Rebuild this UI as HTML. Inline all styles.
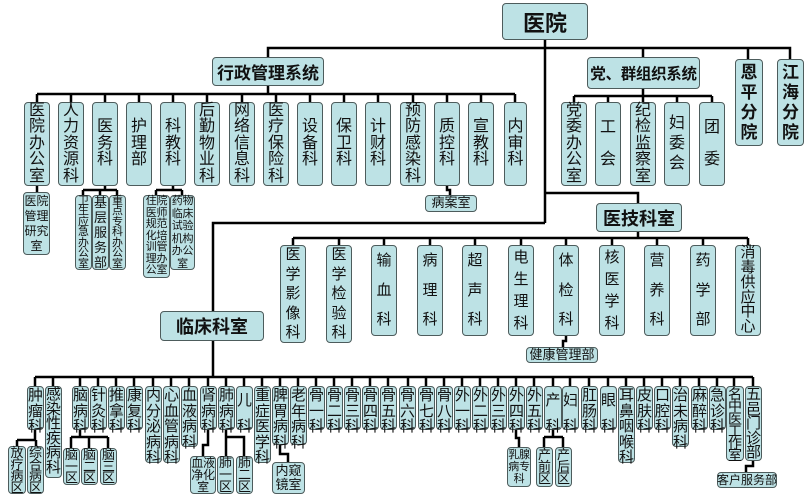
<!DOCTYPE html>
<html><head><meta charset="utf-8">
<style>
html,body{margin:0;padding:0;background:#fff;}
#c{position:relative;width:810px;height:501px;overflow:hidden;font-family:"Liberation Sans","Noto Sans CJK SC",sans-serif;color:#111;}
.b{position:absolute;background:#bde2e5;border:1px solid #4d5c5c;border-radius:4px;box-sizing:border-box;text-align:center;display:flex;flex-direction:column;align-items:center;justify-content:center;overflow:visible;white-space:nowrap;}
.h{font-weight:bold;font-size:17px;}
.a{font-size:16px;line-height:16.5px;}
.t{font-size:15px;line-height:15.5px;justify-content:flex-start;padding-top:1px;}
.s{font-size:12px;line-height:12.5px;}
.w{font-size:11px;letter-spacing:-0.3px;}
.m{font-size:15px;}
svg{position:absolute;left:0;top:0;}
</style></head><body><div id="c">
<svg width="810" height="501" fill="none" stroke="#000" stroke-width="2.5">
<path d="M545 40V223M545 193H638V203M545 223H213V311"/>
<path d="M268 57V48H790V59M643 48V57M748 48V59"/>
<path d="M268 86V94M37 94H515M37 94V102M71 94V102M105 94V102M139 94V102M173 94V102M207 94V102M242 94V102M276 94V102M310 94V102M344 94V102M378 94V102M413 94V102M447 94V102M481 94V102M515 94V102"/>
<path d="M37 186V192M105 186V190M83 190H117M83 190V195M100 190V195M117 190V195M173 186V190M156 190H182M156 190V195M182 190V195M447 186V190H450V195"/>
<path d="M643 89V96M574 96H712M574 96V102M608 96V102M643 96V102M677 96V102M712 96V102"/>
<path d="M638 232V238M293 238H748M293 238V245M339 238V245M384 238V245M430 238V245M475 238V245M521 238V245M566 238V245M612 238V245M657 238V245M703 238V245M748 238V245M566 336V341H563V347"/>
<path d="M213 341V377M35 377H753"/>
<path d="M35 377V386M53 377V386M80 377V386M98 377V386M116 377V386M134 377V386M153 377V386M171 377V386M189 377V386M208 377V386M226 377V386M244 377V386M262 377V386M280 377V386M298 377V386M316 377V386M334 377V386M352 377V386M370 377V386M388 377V386M408 377V386M426 377V386M444 377V386M462 377V386M480 377V386M498 377V386M516 377V386M534 377V386M553 377V386M570 377V386M589 377V386M608 377V386M626 377V386M644 377V386M662 377V386M680 377V386M699 377V386M717 377V386M734 377V386M753 377V386"/>
<path d="M35 430V440M17 440H36M17 440V446M36 440V446M80 430V437M71 437H108M71 437V448M89 437V448M108 437V448M208 430V445H203V456M226 430V456M226 437H244V456M280 445V454H288V462M516 430V438H519V447M553 430V437M544 437H563M544 437V447M563 437V447M753 461V466H746V472"/>
</svg>

<div class="b" style="left:502px;top:3px;width:86px;height:37px;font-weight:bold;font-size:22px;">医院</div>
<div class="b h" style="left:212px;top:57px;width:112px;height:29px;">行政管理系统</div>
<div class="b h" style="left:587px;top:57px;width:113px;height:32px;font-size:15.5px;letter-spacing:-0.3px;">党、群组织系统</div>
<div class="b h" style="left:735px;top:59px;width:28px;height:87px;line-height:20px;">恩<br>平<br>分<br>院</div>
<div class="b h" style="left:777px;top:59px;width:27px;height:87px;line-height:20px;">江<br>海<br>分<br>院</div>
<div class="b h" style="left:596px;top:203px;width:86px;height:29px;font-size:18px;">医技科室</div>
<div class="b h" style="left:160px;top:311px;width:104px;height:30px;font-size:18px;">临床科室</div>

<!-- admin -->
<div class="b a" style="left:24px;top:102px;width:26px;height:84px;">医<br>院<br>办<br>公<br>室</div>
<div class="b a" style="left:58px;top:102px;width:26px;height:84px;">人<br>力<br>资<br>源<br>科</div>
<div class="b a" style="left:92px;top:102px;width:26px;height:84px;">医<br>务<br>科</div>
<div class="b a" style="left:126px;top:102px;width:26px;height:84px;">护<br>理<br>部</div>
<div class="b a" style="left:160px;top:102px;width:26px;height:84px;">科<br>教<br>科</div>
<div class="b a" style="left:194px;top:102px;width:26px;height:84px;">后<br>勤<br>物<br>业<br>科</div>
<div class="b a" style="left:229px;top:102px;width:26px;height:84px;">网<br>络<br>信<br>息<br>科</div>
<div class="b a" style="left:263px;top:102px;width:26px;height:84px;">医<br>疗<br>保<br>险<br>科</div>
<div class="b a" style="left:297px;top:102px;width:26px;height:84px;">设<br>备<br>科</div>
<div class="b a" style="left:331px;top:102px;width:26px;height:84px;">保<br>卫<br>科</div>
<div class="b a" style="left:365px;top:102px;width:26px;height:84px;">计<br>财<br>科</div>
<div class="b a" style="left:400px;top:102px;width:26px;height:84px;">预<br>防<br>感<br>染<br>科</div>
<div class="b a" style="left:434px;top:102px;width:26px;height:84px;">质<br>控<br>科</div>
<div class="b a" style="left:468px;top:102px;width:26px;height:84px;">宣<br>教<br>科</div>
<div class="b a" style="left:504px;top:102px;width:23px;height:84px;">内<br>审<br>科</div>

<div class="b" style="left:23px;top:192px;width:27px;height:63px;font-size:12px;line-height:15px;">医院<br>管理<br>研究<br>室</div>
<div class="b s" style="left:75px;top:195px;width:17px;height:75px;font-size:11px;line-height:10.5px;">卫<br>生<br>应<br>急<br>办<br>公<br>室</div>
<div class="b s" style="left:92px;top:195px;width:17px;height:75px;font-size:13px;line-height:15px;">基<br>层<br>服<br>务<br>部</div>
<div class="b s" style="left:109px;top:195px;width:17px;height:75px;font-size:11px;line-height:10.5px;">重<br>点<br>专<br>科<br>办<br>公<br>室</div>
<div class="b w" style="left:143px;top:195px;width:27px;height:83px;line-height:11.5px;">住院<br>医师<br>规范<br>化培<br>训管<br>理办<br>公室</div>
<div class="b w" style="left:170px;top:195px;width:25px;height:75px;line-height:12.5px;">药物<br>临床<br>试验<br>机构<br>办公<br>室</div>
<div class="b s" style="left:425px;top:195px;width:52px;height:17px;font-size:13px;">病案室</div>

<!-- party -->
<div class="b a" style="left:561px;top:102px;width:26px;height:84px;">党<br>委<br>办<br>公<br>室</div>
<div class="b a" style="left:595px;top:102px;width:26px;height:84px;line-height:32px;">工<br>会</div>
<div class="b a" style="left:630px;top:102px;width:26px;height:84px;">纪<br>检<br>监<br>察<br>室</div>
<div class="b a" style="left:664px;top:102px;width:26px;height:84px;line-height:20px;">妇<br>委<br>会</div>
<div class="b a" style="left:699px;top:102px;width:26px;height:84px;line-height:32px;">团<br>委</div>

<!-- medtech -->
<div class="b m" style="left:280px;top:245px;width:26px;height:98px;line-height:19.5px;">医<br>学<br>影<br>像<br>科</div>
<div class="b m" style="left:326px;top:245px;width:26px;height:98px;line-height:19.5px;">医<br>学<br>检<br>验<br>科</div>
<div class="b m" style="left:371px;top:245px;width:26px;height:91px;line-height:29.5px;">输<br>血<br>科</div>
<div class="b m" style="left:417px;top:245px;width:26px;height:91px;line-height:29.5px;">病<br>理<br>科</div>
<div class="b m" style="left:462px;top:245px;width:26px;height:91px;line-height:29.5px;">超<br>声<br>科</div>
<div class="b m" style="left:508px;top:245px;width:26px;height:91px;line-height:22px;">电<br>生<br>理<br>科</div>
<div class="b m" style="left:553px;top:245px;width:26px;height:91px;line-height:29.5px;">体<br>检<br>科</div>
<div class="b m" style="left:599px;top:245px;width:26px;height:91px;line-height:22px;">核<br>医<br>学<br>科</div>
<div class="b m" style="left:644px;top:245px;width:26px;height:91px;line-height:29.5px;">营<br>养<br>科</div>
<div class="b m" style="left:690px;top:245px;width:26px;height:91px;line-height:29.5px;">药<br>学<br>部</div>
<div class="b m" style="left:735px;top:245px;width:26px;height:91px;line-height:14.8px;">消<br>毒<br>供<br>应<br>中<br>心</div>
<div class="b s" style="left:526px;top:347px;width:72px;height:16px;font-size:13px;">健康管理部</div>

<!-- clinical -->
<div class="b t" style="left:27px;top:386px;width:17px;height:44px;">肿<br>瘤<br>科</div>
<div class="b t" style="left:45px;top:386px;width:17px;height:92px;line-height:14.5px;">感<br>染<br>性<br>疾<br>病<br>科</div>
<div class="b t" style="left:72px;top:386px;width:17px;height:44px;">脑<br>病<br>科</div>
<div class="b t" style="left:90px;top:386px;width:17px;height:44px;">针<br>灸<br>科</div>
<div class="b t" style="left:108px;top:386px;width:17px;height:44px;">推<br>拿<br>科</div>
<div class="b t" style="left:126px;top:386px;width:17px;height:44px;">康<br>复<br>科</div>
<div class="b t" style="left:145px;top:386px;width:17px;height:77px;">内<br>分<br>泌<br>病<br>科</div>
<div class="b t" style="left:163px;top:386px;width:17px;height:77px;">心<br>血<br>管<br>病<br>科</div>
<div class="b t" style="left:181px;top:386px;width:17px;height:61px;">血<br>液<br>病<br>科</div>
<div class="b t" style="left:200px;top:386px;width:17px;height:44px;">肾<br>病<br>科</div>
<div class="b t" style="left:218px;top:386px;width:17px;height:44px;">肺<br>病<br>科</div>
<div class="b t" style="left:236px;top:386px;width:17px;height:44px;line-height:26px;">儿<br>科</div>
<div class="b t" style="left:254px;top:386px;width:17px;height:77px;">重<br>症<br>医<br>学<br>科</div>
<div class="b t" style="left:272px;top:386px;width:17px;height:59px;">脾<br>胃<br>病<br>科</div>
<div class="b t" style="left:290px;top:386px;width:17px;height:59px;">老<br>年<br>病<br>科</div>
<div class="b t" style="left:308px;top:386px;width:17px;height:44px;">骨<br>一<br>科</div>
<div class="b t" style="left:326px;top:386px;width:17px;height:44px;">骨<br>二<br>科</div>
<div class="b t" style="left:344px;top:386px;width:17px;height:44px;">骨<br>三<br>科</div>
<div class="b t" style="left:362px;top:386px;width:17px;height:44px;">骨<br>四<br>科</div>
<div class="b t" style="left:380px;top:386px;width:17px;height:44px;">骨<br>五<br>科</div>
<div class="b t" style="left:399px;top:386px;width:17px;height:44px;">骨<br>六<br>科</div>
<div class="b t" style="left:418px;top:386px;width:17px;height:44px;">骨<br>七<br>科</div>
<div class="b t" style="left:436px;top:386px;width:17px;height:44px;">骨<br>八<br>科</div>
<div class="b t" style="left:454px;top:386px;width:17px;height:44px;">外<br>一<br>科</div>
<div class="b t" style="left:472px;top:386px;width:17px;height:44px;">外<br>二<br>科</div>
<div class="b t" style="left:490px;top:386px;width:17px;height:44px;">外<br>三<br>科</div>
<div class="b t" style="left:508px;top:386px;width:17px;height:44px;">外<br>四<br>科</div>
<div class="b t" style="left:526px;top:386px;width:17px;height:44px;">外<br>五<br>科</div>
<div class="b t" style="left:544px;top:386px;width:18px;height:44px;line-height:26px;">产<br>科</div>
<div class="b t" style="left:562px;top:386px;width:17px;height:44px;line-height:26px;">妇<br>科</div>
<div class="b t" style="left:581px;top:386px;width:17px;height:44px;">肛<br>肠<br>科</div>
<div class="b t" style="left:600px;top:386px;width:17px;height:44px;line-height:26px;">眼<br>科</div>
<div class="b t" style="left:618px;top:386px;width:17px;height:77px;">耳<br>鼻<br>咽<br>喉<br>科</div>
<div class="b t" style="left:636px;top:386px;width:17px;height:44px;">皮<br>肤<br>科</div>
<div class="b t" style="left:654px;top:386px;width:17px;height:44px;">口<br>腔<br>科</div>
<div class="b t" style="left:672px;top:386px;width:17px;height:61px;">治<br>未<br>病<br>科</div>
<div class="b t" style="left:691px;top:386px;width:17px;height:44px;">麻<br>醉<br>科</div>
<div class="b t" style="left:709px;top:386px;width:17px;height:44px;">急<br>诊<br>科</div>
<div class="b t" style="left:726px;top:386px;width:18px;height:75px;font-size:14px;line-height:12.3px;">名<br>中<br>医<br>工<br>作<br>室</div>
<div class="b t" style="left:745px;top:386px;width:17px;height:75px;line-height:14.6px;">五<br>邑<br>门<br>诊<br>部</div>

<!-- clinical subs -->
<div class="b s" style="left:8px;top:446px;width:18px;height:48px;font-size:13px;line-height:11.5px;">放<br>疗<br>病<br>区</div>
<div class="b s" style="left:27px;top:446px;width:17px;height:48px;font-size:13px;line-height:11.5px;">综<br>合<br>病<br>区</div>
<div class="b s" style="left:63px;top:448px;width:17px;height:37px;font-size:13px;line-height:11.5px;">脑<br>一<br>区</div>
<div class="b s" style="left:81px;top:448px;width:17px;height:37px;font-size:13px;line-height:11.5px;">脑<br>二<br>区</div>
<div class="b s" style="left:100px;top:448px;width:17px;height:37px;font-size:13px;line-height:11.5px;">脑<br>三<br>区</div>
<div class="b w" style="left:190px;top:456px;width:26px;height:38px;font-size:12px;line-height:12px;">血液<br>净化<br>室</div>
<div class="b s" style="left:217px;top:456px;width:17px;height:38px;font-size:13px;line-height:12px;">肺<br>一<br>区</div>
<div class="b s" style="left:236px;top:456px;width:17px;height:38px;font-size:13px;line-height:12px;">肺<br>二<br>区</div>
<div class="b s" style="left:272px;top:462px;width:33px;height:32px;font-size:13px;line-height:14px;">内窥<br>镜室</div>
<div class="b w" style="left:507px;top:447px;width:24px;height:40px;line-height:12px;">乳腺<br>病专<br>科</div>
<div class="b s" style="left:536px;top:447px;width:17px;height:40px;font-size:13px;line-height:12px;">产<br>前<br>区</div>
<div class="b s" style="left:555px;top:447px;width:17px;height:40px;font-size:13px;line-height:12px;">产<br>后<br>区</div>
<div class="b s" style="left:717px;top:472px;width:60px;height:16px;font-size:12px;">客户服务部</div>
</div></body></html>
